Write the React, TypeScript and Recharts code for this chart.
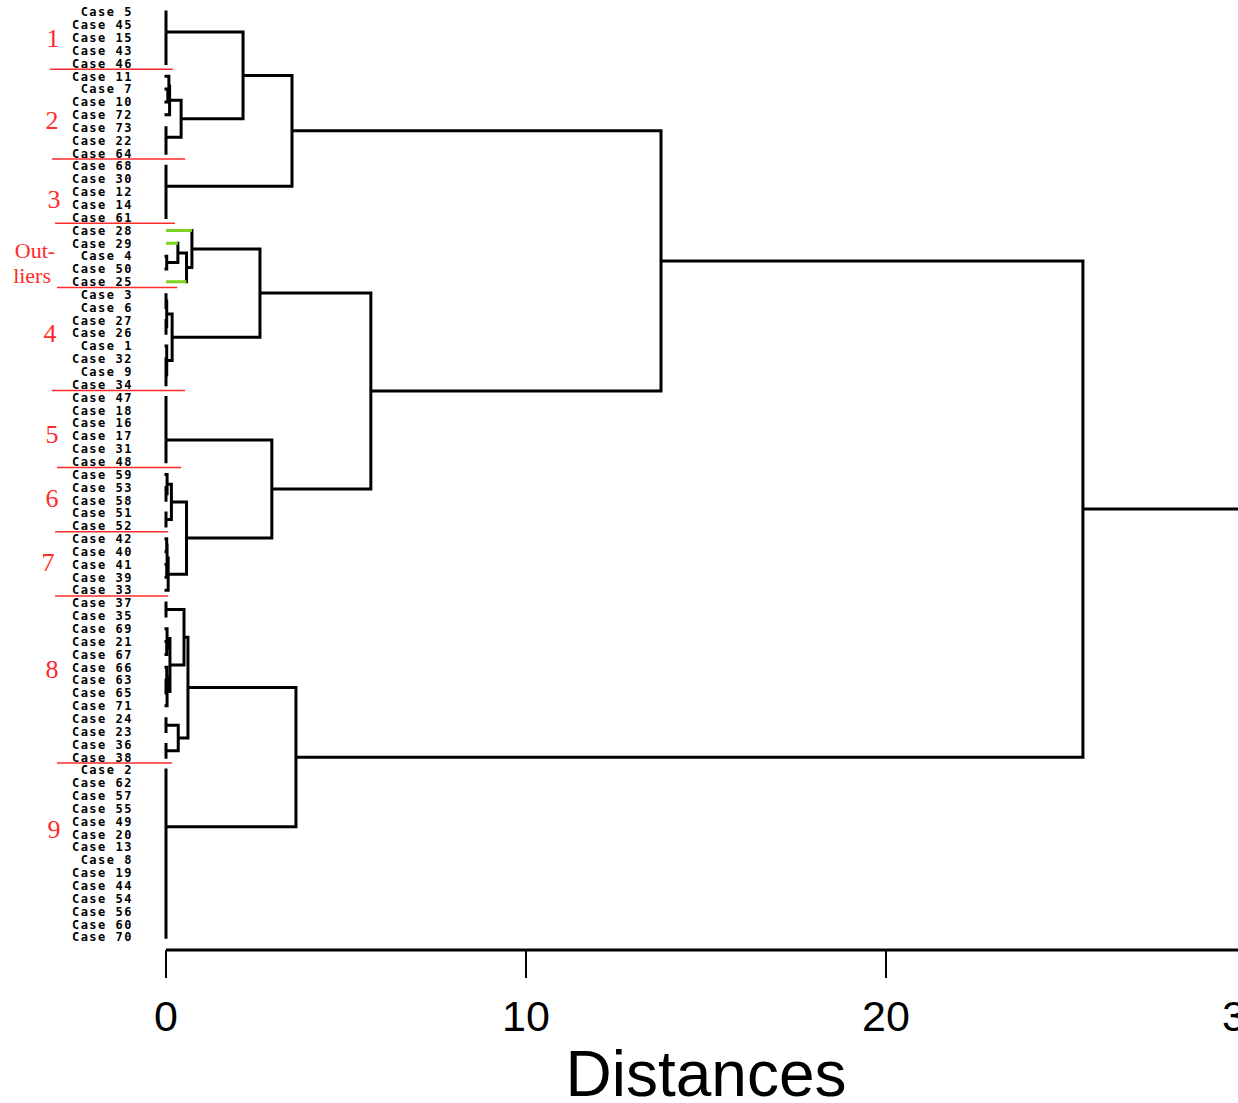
import { ComposedChart, Line, XAxis, YAxis, ReferenceLine, ReferenceDot } from 'recharts'

// ---------------------------------------------------------------------------
// Data
// ---------------------------------------------------------------------------

// leaf order, top to bottom
const CASES = [
  5, 45, 15, 43, 46,
  11, 7, 10, 72, 73, 22, 64,
  68, 30, 12, 14, 61,
  28, 29, 4, 50, 25,
  3, 6, 27, 26, 1, 32, 9, 34,
  47, 18, 16, 17, 31, 48,
  59, 53, 58, 51, 52,
  42, 40, 41, 39, 33,
  37, 35, 69, 21, 67, 66, 63, 65, 71, 24, 23, 36, 38,
  2, 62, 57, 55, 49, 20, 13, 8, 19, 44, 54, 56, 60, 70,
]

// leaves whose stubs are drawn green
const GREEN_CASES = [28, 29, 25]

// a node is a case number or [left, right, merge distance]
type Tree = number | [Tree, Tree, number]

const cluster1: Tree = [5, [[[45, 15, 0], 43, 0], 46, 0], 0]
const cluster2: Tree = [[[11, [7, 10, 0.05], 0.08], 72, 0.1], [73, [22, 64, 0], 0], 0.42]
const cluster3: Tree = [68, [[[30, 12, 0], 14, 0], 61, 0], 0]
const outliers: Tree = [28, [[29, [4, 50, 0.02], 0.33], 25, 0.57], 0.72]
const cluster4: Tree = [[[3, 6, 0], [27, 26, 0], 0.02], [1, [[32, 9, 0], 34, 0], 0.02], 0.17]
const cluster5: Tree = [[[[47, 18, 0], 16, 0], 17, 0], [31, 48, 0], 0]
const cluster6: Tree = [[59, [53, 58, 0], 0.03], [51, 52, 0], 0.15]
const cluster7: Tree = [[[42, 40, 0.02], [41, 39, 0.02], 0.03], 33, 0.06]
const cluster8: Tree = [
  [[37, 35, 0], [[69, [21, 67, 0.02], 0.03], [[66, [63, 65, 0], 0.02], 71, 0.03], 0.11], 0.5],
  [[24, 23, 0], [36, 38, 0], 0.34],
  0.61,
]
const cluster9: Tree = [
  [[2, 62, 0], 57, 0],
  [[[55, 49, 0], [20, [13, 8, 0], 0], 0], [[[19, 44, 0], 54, 0], [56, [60, 70, 0], 0], 0], 0],
  0,
]

const tree: Tree = [
  [
    [[cluster1, cluster2, 2.14], cluster3, 3.5],
    [[outliers, cluster4, 2.61], [cluster5, [cluster6, cluster7, 0.57], 2.94], 5.69],
    13.75,
  ],
  [cluster8, cluster9, 3.61],
  25.47,
]

const X_TICKS = [0, 10, 20, 30]

// red separators: after leaf index, from / to distance
const SEPARATORS = [
  { after: 4, from: -3.22, to: 0.19 },
  { after: 11, from: -3.17, to: 0.53 },
  { after: 16, from: -3.08, to: 0.25 },
  { after: 21, from: -3.03, to: 0.31 },
  { after: 29, from: -3.17, to: 0.53 },
  { after: 35, from: -3.03, to: 0.42 },
  { after: 40, from: -3.08, to: 0.06 },
  { after: 45, from: -3.08, to: 0.06 },
  { after: 58, from: -3.03, to: 0.17 },
]

const GROUP_LABELS = [
  { text: '1', at: 2.0, x: -3.14, size: 26 },
  { text: '2', at: 8.4, x: -3.17, size: 26 },
  { text: '3', at: 14.5, x: -3.11, size: 26 },
  { text: 'Out-', at: 18.5, x: -3.64, size: 22 },
  { text: 'liers', at: 20.5, x: -3.72, size: 22 },
  { text: '4', at: 25.0, x: -3.22, size: 26 },
  { text: '5', at: 32.8, x: -3.17, size: 26 },
  { text: '6', at: 37.8, x: -3.17, size: 26 },
  { text: '7', at: 42.8, x: -3.28, size: 26 },
  { text: '8', at: 51.1, x: -3.17, size: 26 },
  { text: '9', at: 63.6, x: -3.11, size: 26 },
]

// ---------------------------------------------------------------------------
// Layout of the tree into segments
// ---------------------------------------------------------------------------

type Row = { x: number; black: number | null; green: number | null }

function buildRows(): Row[] {
  const rows: Row[] = []
  const seg = (x1: number, y1: number, x2: number, y2: number, green: boolean) => {
    const key = green ? 'green' : 'black'
    rows.push({ x: x1, black: null, green: null, [key]: y1 } as Row)
    rows.push({ x: x2, black: null, green: null, [key]: y2 } as Row)
    rows.push({ x: x2, black: null, green: null })
  }
  const walk = (t: Tree): { y: number; h: number } => {
    if (typeof t === 'number') return { y: CASES.indexOf(t), h: 0 }
    const [l, r, h] = t
    const a = walk(l)
    const b = walk(r)
    seg(a.h, a.y, h, a.y, typeof l === 'number' && GREEN_CASES.includes(l))
    seg(h, a.y, h, b.y, false)
    seg(h, b.y, b.h, b.y, typeof r === 'number' && GREEN_CASES.includes(r))
    return { y: (a.y + b.y) / 2, h }
  }
  const root = walk(tree)
  seg(root.h, root.y, 30, root.y, false)
  return rows
}

const rows = buildRows()

// ---------------------------------------------------------------------------
// Chart
// ---------------------------------------------------------------------------

export default function App() {
  return (
    <div
      style={{
        position: 'absolute',
        left: 0,
        top: 0,
        width: 1238,
        height: 1103,
        overflow: 'hidden',
        background: '#fff',
      }}
    >
      <ComposedChart
        width={1260}
        height={1103}
        data={rows}
        margin={{ top: 12, right: 14, bottom: 0, left: 0 }}
      >
        <XAxis
          type="number"
          dataKey="x"
          domain={[0, 30]}
          ticks={X_TICKS}
          interval={0}
          height={153}
          axisLine={{ stroke: '#000', strokeWidth: 3 }}
          tickLine={{ stroke: '#000', strokeWidth: 2 }}
          tickSize={28}
          tickMargin={22}
          tick={{ fontSize: 43, fontFamily: 'Liberation Sans, Arial, sans-serif', fill: '#000' }}
          label={{
            value: 'Distances',
            position: 'insideBottom',
            offset: 7,
            fontSize: 64,
            fontFamily: 'Liberation Sans, Arial, sans-serif',
            fill: '#000',
          }}
        />
        <YAxis
          type="number"
          domain={[0, 73]}
          reversed
          width={166}
          ticks={CASES.map((_, i) => i)}
          interval={0}
          axisLine={false}
          tickLine={false}
          tickSize={0}
          tickMargin={33}
          tickFormatter={(i: number) => `Case ${CASES[i]}`}
          tick={{
            fontSize: 12,
            fontFamily: 'DejaVu Sans Mono, monospace',
            fontWeight: 'bold',
            fill: '#000',
            letterSpacing: 1.5,
          }}
        />
        <Line
          dataKey="black"
          stroke="#000"
          strokeWidth={3}
          strokeLinecap="square"
          dot={false}
          activeDot={false}
          connectNulls={false}
          isAnimationActive={false}
        />
        <Line
          dataKey="green"
          stroke="#7ed321"
          strokeWidth={3}
          dot={false}
          activeDot={false}
          connectNulls={false}
          isAnimationActive={false}
        />
        {SEPARATORS.map((s) => (
          <ReferenceLine
            key={s.after}
            segment={[
              { x: s.from, y: s.after + 0.45 },
              { x: s.to, y: s.after + 0.45 },
            ]}
            stroke="#ff2a2a"
            strokeWidth={1.5}
            ifOverflow="visible"
          />
        ))}
        {GROUP_LABELS.map((g) => (
          <ReferenceDot
            key={g.text}
            x={g.x}
            y={g.at}
            r={0}
            fill="none"
            stroke="none"
            ifOverflow="visible"
            label={{
              value: g.text,
              position: 'center',
              fill: '#ff2a2a',
              fontSize: g.size,
              fontFamily: 'Liberation Serif, Times New Roman, serif',
            }}
          />
        ))}
      </ComposedChart>
    </div>
  )
}
